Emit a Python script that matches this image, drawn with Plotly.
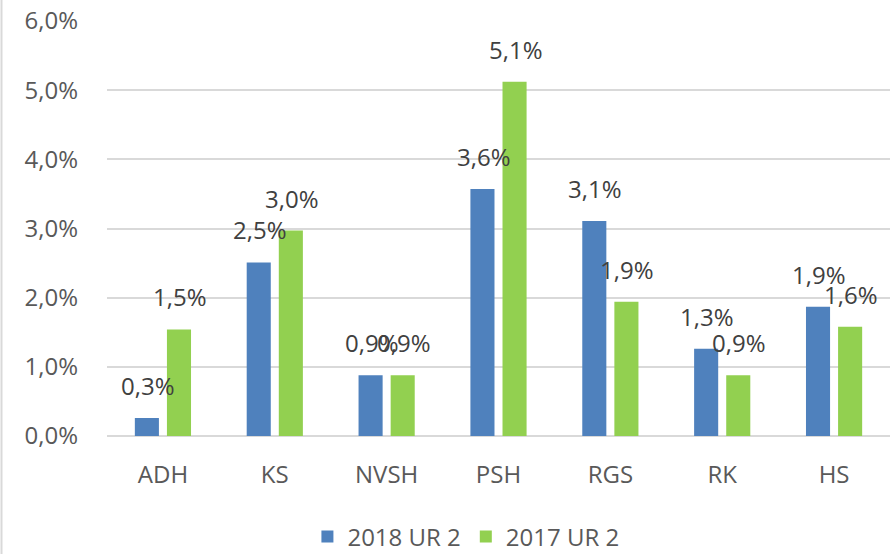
import plotly.graph_objects as go

categories = ["ADH", "KS", "NVSH", "PSH", "RGS", "RK", "HS"]
series_names = ["2018 UR 2", "2017 UR 2"]
values_2018 = [0.26, 2.51, 0.88, 3.57, 3.11, 1.26, 1.87]
values_2017 = [1.54, 2.97, 0.88, 5.12, 1.94, 0.88, 1.58]
labels_2018 = ["0,3%", "2,5%", "0,9%", "3,6%", "3,1%", "1,3%", "1,9%"]
labels_2017 = ["1,5%", "3,0%", "0,9%", "5,1%", "1,9%", "0,9%", "1,6%"]
y_ticks = [0, 1, 2, 3, 4, 5, 6]
y_tick_labels = ["0,0%", "1,0%", "2,0%", "3,0%", "4,0%", "5,0%", "6,0%"]

colors = ["#4F81BD", "#92D050"]
FONT = "Open Sans"
FS = 24
W, H = 896, 554
ML, MR, MT, MB = 107, 6, 21, 118

fig = go.Figure()
for name, vals, col in zip(series_names, [values_2018, values_2017], colors):
    fig.add_trace(go.Bar(x=categories, y=vals, name=name, marker_color=col,
                         marker_line_width=0, hoverinfo="skip"))

annotations = []
for vals, labs, shift in [(values_2018, labels_2018, -15), (values_2017, labels_2017, 17)]:
    for c, v, t in zip(categories, vals, labs):
        annotations.append(dict(x=c, y=v, text=t, showarrow=False, xref="x", yref="y",
                                xshift=shift, yanchor="bottom", yshift=14,
                                font=dict(family=FONT, size=FS, color="#404040")))

pw = W - ML - MR
fig.update_layout(
    width=W, height=H,
    margin=dict(l=ML, r=MR, t=MT, b=MB, autoexpand=False),
    paper_bgcolor="white", plot_bgcolor="white",
    barmode="group", bargap=0.426, bargroupgap=0.25,
    font=dict(family=FONT, size=FS, color="#595959"),
    annotations=annotations,
    showlegend=True,
    legend=dict(orientation="h", x=0.52, xanchor="center", y=1 - 537 / H, yanchor="middle",
                yref="container", xref="container",
                font=dict(family=FONT, size=FS, color="#595959"),
                itemwidth=30, traceorder="normal"),
    xaxis=dict(showgrid=False, showline=False, ticks="", ticklabelstandoff=22,
               automargin=False,
               tickfont=dict(family=FONT, size=FS, color="#595959")),
    yaxis=dict(range=[0, 6], tickvals=y_ticks, ticktext=y_tick_labels,
               showgrid=True, gridcolor="#D9D9D9", gridwidth=1.5,
               zeroline=True, zerolinecolor="#D9D9D9", zerolinewidth=1.5,
               showline=False, ticks="", ticklabelstandoff=28, automargin=False,
               tickfont=dict(family=FONT, size=FS, color="#595959")),
    shapes=[dict(type="line", xref="paper", yref="paper",
                 x0=(1.5 - ML) / pw, x1=(1.5 - ML) / pw,
                 y0=-MB / (H - MT - MB), y1=(H - MB) / (H - MT - MB),
                 line=dict(color="#D9D9D9", width=2))],
)

fig.write_html("out.html", config={"displayModeBar": False},
               post_script="document.body.style.margin='0';document.body.style.overflow='hidden';")
